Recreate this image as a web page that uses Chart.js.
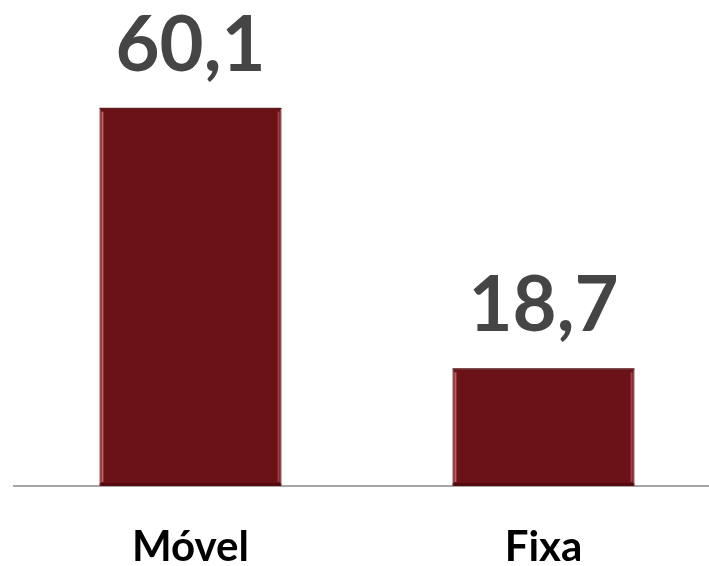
<!DOCTYPE html>
<html>
<head>
<meta charset="utf-8">
<script src="https://cdn.jsdelivr.net/npm/chart.js@4"></script>
<style>
  html, body { margin: 0; padding: 0; background: #fff; overflow: hidden; }
  #wrap { width: 720px; height: 566px; }
</style>
</head>
<body>
<div id="wrap"><canvas id="accessChart" width="720" height="566"></canvas></div>
<script>
const CATEGORIES = ["Móvel", "Fixa"];
const VALUES = [60.1, 18.7];

const BAR_COLOR = "#6b1217";
const LABEL_COLOR = "#454545";

function formatValue(v) {
  return v.toFixed(1).replace(".", ",");
}

// value labels above the bars, plus a thin bevel on each bar edge
const barDecor = {
  id: "barDecor",
  afterDatasetsDraw(chart) {
    const ctx = chart.ctx;
    const meta = chart.getDatasetMeta(0);
    meta.data.forEach((bar, i) => {
      const left = bar.x - bar.width / 2;
      const right = bar.x + bar.width / 2;
      const top = bar.y;
      const bottom = bar.base;

      ctx.save();
      // left highlight
      ctx.fillStyle = "rgba(225, 120, 125, 0.75)";
      ctx.fillRect(left + 2, top + 4, 2, bottom - top - 8);
      // right highlight
      ctx.fillStyle = "rgba(200, 100, 105, 0.55)";
      ctx.fillRect(right - 4, top + 4, 2, bottom - top - 8);
      // darker top and bottom rims
      ctx.fillStyle = "rgba(60, 0, 5, 0.45)";
      ctx.fillRect(left, top, right - left, 1.5);
      ctx.fillRect(left, bottom - 3, right - left, 2);
      ctx.restore();

      ctx.save();
      ctx.font = "bold 76px Lato";
      ctx.fillStyle = LABEL_COLOR;
      ctx.textAlign = "center";
      ctx.textBaseline = "alphabetic";
      ctx.fillText(formatValue(VALUES[i]), bar.x, top - 37);
      ctx.restore();
    });
  },
};

new Chart(document.getElementById("accessChart"), {
  type: "bar",
  data: {
    labels: CATEGORIES,
    datasets: [
      {
        data: VALUES,
        backgroundColor: BAR_COLOR,
        borderColor: "#5a0c10",
        borderWidth: 1,
        borderSkipped: false,
        barPercentage: 0.516,
        categoryPercentage: 1,
      },
    ],
  },
  options: {
    responsive: false,
    animation: false,
    layout: {
      padding: { left: 14, right: 0, top: 0, bottom: 0 },
    },
    plugins: {
      legend: { display: false },
      tooltip: { enabled: false },
    },
    scales: {
      x: {
        grid: { display: false, drawTicks: false },
        border: { display: true, color: "#a6a6a6", width: 2 },
        ticks: {
          color: "#000",
          padding: 40,
          font: { family: "Lato", weight: "bold", size: 42, lineHeight: 1 },
        },
        afterFit(scale) {
          scale.height = 80;
        },
      },
      y: {
        display: false,
        min: 0,
        max: 77.2,
      },
    },
  },
  plugins: [barDecor],
});
</script>
</body>
</html>
